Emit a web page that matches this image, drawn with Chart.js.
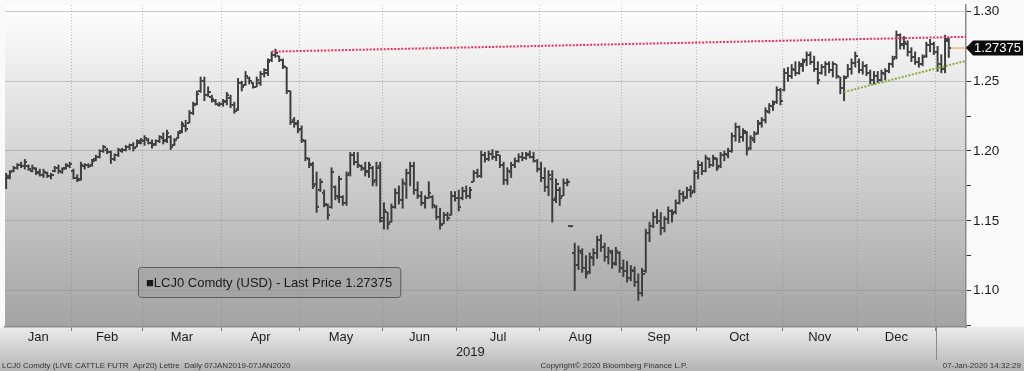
<!DOCTYPE html>
<html>
<head>
<meta charset="utf-8">
<title>LCJ0 Comdty - Last Price</title>
<script src="https://cdn.jsdelivr.net/npm/chart.js"></script>
<style>
  html, body { margin: 0; padding: 0; background: #fafafa; }
  #wrap { position: relative; width: 1024px; height: 371px; }
</style>
</head>
<body>
<div id="wrap"><canvas id="chart"></canvas></div>
<script>
// trading days 07JAN2019 - 07JAN2020, one bar per day (index on the x axis)
const months = ['Jan', 'Feb', 'Mar', 'Apr', 'May', 'Jun', 'Jul', 'Aug', 'Sep', 'Oct', 'Nov', 'Dec'];
const monthStarts = [0, 18, 37, 58, 79, 101, 121, 143, 165, 185, 208, 228, 249]; // last one = Jan 2020
const yTicks = [1.075, 1.10, 1.125, 1.15, 1.175, 1.20, 1.225, 1.25, 1.275, 1.30];

const opens = [
  1.175,1.181,1.186,1.188,1.190,1.189,1.189,1.186,1.187,1.185,1.183,1.184,1.182,1.186,1.188,1.185,1.188,1.189,
  1.186,1.181,1.180,1.189,1.190,1.190,1.194,1.196,1.200,1.201,1.199,1.194,1.197,1.200,1.201,1.203,1.204,1.203,1.206,
  1.207,1.208,1.206,1.205,1.207,1.209,1.208,1.210,1.204,1.209,1.214,1.218,1.220,1.227,1.234,1.243,1.250,1.240,1.239,1.236,1.233,
  1.234,1.235,1.238,1.233,1.230,1.249,1.247,1.252,1.249,1.246,1.249,1.255,1.256,1.265,1.269,1.268,1.265,1.260,1.243,1.222,1.220,
  1.216,1.207,1.194,1.190,1.176,1.172,1.170,1.161,1.160,1.174,1.166,1.167,1.163,1.184,1.197,1.192,1.189,1.187,1.186,1.188,1.179,1.189,
  1.150,1.156,1.149,1.160,1.170,1.165,1.176,1.184,1.189,1.172,1.168,1.163,1.166,1.167,1.160,1.153,1.148,1.154,1.154,1.168,
  1.166,1.166,1.171,1.168,1.178,1.184,1.182,1.197,1.194,1.198,1.196,1.197,1.190,1.179,1.185,1.190,1.193,1.196,1.195,1.197,1.196,1.193,
  1.187,1.181,1.174,1.180,1.166,1.172,1.168,1.177,1.146,1.127,1.118,1.127,1.116,1.113,1.123,1.127,1.136,1.131,1.124,1.127,1.120,1.127,
  1.116,1.114,1.109,1.114,1.106,1.098,1.114,1.141,1.146,1.153,1.150,1.145,1.151,1.157,1.156,1.163,1.169,1.167,1.172,1.171,
  1.184,1.190,1.186,1.194,1.190,1.194,1.189,1.197,1.197,1.200,1.211,1.217,1.210,1.213,1.202,1.208,1.213,1.219,1.222,1.228,1.232,1.235,1.244,
  1.244,1.256,1.254,1.258,1.256,1.261,1.265,1.269,1.264,1.259,1.256,1.260,1.262,1.258,1.262,1.253,1.245,1.253,1.259,1.263,
  1.264,1.258,1.261,1.256,1.251,1.254,1.251,1.255,1.257,1.262,1.267,1.283,1.277,1.277,1.271,1.267,1.264,1.262,1.268,1.276,1.277,
  1.271,1.262,1.259,1.279
];
const highs = [
  1.184,1.186,1.189,1.191,1.192,1.194,1.190,1.190,1.188,1.187,1.187,1.185,1.184,1.189,1.190,1.188,1.191,1.192,
  1.187,1.183,1.192,1.191,1.191,1.194,1.197,1.201,1.204,1.202,1.200,1.198,1.202,1.202,1.204,1.205,1.206,1.208,1.209,
  1.211,1.209,1.208,1.208,1.211,1.213,1.215,1.211,1.209,1.214,1.221,1.222,1.229,1.235,1.243,1.253,1.253,1.246,1.240,1.237,1.235,
  1.237,1.242,1.240,1.235,1.252,1.250,1.257,1.253,1.249,1.253,1.257,1.259,1.266,1.271,1.273,1.268,1.266,1.260,1.243,1.224,1.222,
  1.218,1.208,1.195,1.192,1.185,1.180,1.172,1.162,1.188,1.175,1.182,1.168,1.185,1.199,1.199,1.199,1.190,1.192,1.192,1.189,1.192,1.192,
  1.163,1.156,1.162,1.173,1.175,1.180,1.187,1.192,1.192,1.178,1.171,1.168,1.178,1.168,1.161,1.159,1.156,1.156,1.171,1.171,
  1.172,1.174,1.175,1.174,1.186,1.187,1.200,1.199,1.200,1.201,1.200,1.197,1.192,1.188,1.192,1.195,1.198,1.199,1.199,1.200,1.199,1.194,
  1.192,1.188,1.186,1.186,1.180,1.174,1.180,1.180,1.1464,1.134,1.132,1.130,1.125,1.127,1.130,1.139,1.140,1.134,1.131,1.129,1.131,1.128,
  1.122,1.121,1.118,1.117,1.112,1.116,1.144,1.149,1.156,1.158,1.156,1.153,1.160,1.158,1.165,1.172,1.171,1.174,1.175,1.186,
  1.193,1.192,1.197,1.195,1.197,1.195,1.199,1.200,1.202,1.213,1.220,1.218,1.216,1.214,1.211,1.214,1.222,1.224,1.231,1.234,1.236,1.246,1.245,
  1.259,1.260,1.262,1.264,1.264,1.266,1.271,1.271,1.268,1.264,1.262,1.264,1.264,1.264,1.262,1.253,1.254,1.262,1.266,1.271,
  1.266,1.264,1.262,1.258,1.257,1.257,1.258,1.259,1.263,1.268,1.286,1.284,1.282,1.279,1.274,1.271,1.267,1.269,1.278,1.280,1.278,
  1.275,1.269,1.283,1.281
];
const lows = [
  1.173,1.180,1.185,1.187,1.188,1.187,1.186,1.185,1.183,1.182,1.181,1.181,1.180,1.185,1.184,1.184,1.187,1.188,
  1.180,1.178,1.179,1.187,1.188,1.189,1.193,1.195,1.199,1.198,1.191,1.193,1.196,1.199,1.200,1.201,1.200,1.203,1.205,
  1.204,1.205,1.202,1.204,1.206,1.205,1.206,1.201,1.204,1.209,1.213,1.214,1.220,1.226,1.233,1.242,1.236,1.239,1.235,1.233,1.232,
  1.232,1.233,1.231,1.227,1.229,1.243,1.247,1.248,1.245,1.246,1.247,1.253,1.254,1.264,1.267,1.264,1.259,1.241,1.219,1.217,1.213,
  1.206,1.193,1.188,1.173,1.156,1.171,1.160,1.151,1.159,1.165,1.163,1.161,1.161,1.182,1.190,1.188,1.186,1.182,1.181,1.175,1.175,1.149,
  1.144,1.144,1.149,1.159,1.162,1.159,1.166,1.175,1.169,1.166,1.161,1.159,1.166,1.159,1.151,1.144,1.148,1.150,1.154,1.164,
  1.157,1.165,1.166,1.166,1.178,1.181,1.181,1.192,1.193,1.194,1.193,1.188,1.176,1.176,1.181,1.188,1.192,1.193,1.194,1.195,1.192,1.185,
  1.178,1.171,1.168,1.149,1.163,1.161,1.168,1.175,1.1456,1.100,1.115,1.113,1.109,1.112,1.118,1.123,1.128,1.121,1.119,1.116,1.118,1.113,
  1.110,1.106,1.107,1.103,1.093,1.096,1.113,1.135,1.145,1.148,1.140,1.142,1.148,1.149,1.155,1.162,1.164,1.166,1.167,1.170,
  1.180,1.183,1.185,1.188,1.189,1.186,1.188,1.193,1.195,1.199,1.207,1.206,1.207,1.197,1.201,1.206,1.212,1.217,1.220,1.227,1.229,1.234,1.233,
  1.243,1.250,1.252,1.254,1.255,1.257,1.261,1.262,1.257,1.248,1.255,1.254,1.256,1.253,1.252,1.241,1.236,1.253,1.255,1.260,
  1.256,1.255,1.254,1.248,1.248,1.249,1.250,1.251,1.256,1.260,1.266,1.273,1.273,1.268,1.264,1.262,1.260,1.261,1.267,1.271,1.269,
  1.257,1.256,1.256,1.267
];
const closes = [
  1.182,1.185,1.188,1.190,1.189,1.192,1.187,1.188,1.184,1.183,1.185,1.182,1.183,1.188,1.186,1.187,1.190,1.191,
  1.181,1.179,1.190,1.190,1.189,1.193,1.196,1.200,1.203,1.199,1.194,1.197,1.201,1.201,1.203,1.204,1.202,1.207,1.208,
  1.209,1.206,1.204,1.207,1.210,1.207,1.213,1.203,1.208,1.213,1.219,1.216,1.227,1.233,1.241,1.250,1.240,1.242,1.237,1.234,1.234,
  1.236,1.240,1.233,1.229,1.249,1.246,1.254,1.250,1.246,1.251,1.255,1.258,1.264,1.269,1.270,1.265,1.261,1.243,1.221,1.219,1.215,
  1.208,1.195,1.191,1.175,1.160,1.178,1.162,1.154,1.185,1.168,1.180,1.163,1.183,1.197,1.192,1.190,1.188,1.185,1.190,1.178,1.188,1.152,
  1.158,1.148,1.160,1.170,1.165,1.177,1.184,1.189,1.172,1.168,1.163,1.166,1.170,1.161,1.153,1.147,1.154,1.152,1.168,1.166,
  1.160,1.171,1.168,1.172,1.184,1.182,1.197,1.194,1.198,1.196,1.199,1.190,1.179,1.186,1.190,1.193,1.196,1.195,1.198,1.196,1.193,1.187,
  1.181,1.174,1.183,1.165,1.176,1.166,1.177,1.178,1.146,1.118,1.128,1.116,1.112,1.124,1.127,1.136,1.131,1.124,1.128,1.119,1.128,1.116,
  1.114,1.109,1.115,1.106,1.098,1.112,1.141,1.146,1.153,1.150,1.145,1.151,1.157,1.155,1.163,1.169,1.166,1.172,1.170,1.184,
  1.190,1.186,1.195,1.190,1.195,1.188,1.197,1.198,1.200,1.211,1.217,1.210,1.214,1.201,1.209,1.212,1.220,1.222,1.229,1.232,1.234,1.244,1.236,
  1.256,1.254,1.259,1.256,1.262,1.264,1.269,1.264,1.259,1.251,1.260,1.262,1.258,1.262,1.254,1.245,1.252,1.259,1.263,1.268,
  1.258,1.261,1.256,1.251,1.254,1.251,1.256,1.257,1.262,1.266,1.283,1.276,1.278,1.271,1.267,1.264,1.262,1.267,1.276,1.277,1.271,
  1.262,1.259,1.280,1.27375
];

const lastPrice = 1.27375;
// trend lines drawn on the chart: [index, price]
const resistance = [[71, 1.2712], [256.6, 1.2818]];
const support = [[224, 1.2423], [256.6, 1.2646]];

const X_MIN = -0.3, X_MAX = 256.6;
const FONT = "'Liberation Sans', Arial, sans-serif";
Chart.defaults.font.family = FONT;

function tickImage(side) {
  const c = document.createElement('canvas');
  c.width = 5; c.height = 2;
  const g = c.getContext('2d');
  g.fillStyle = '#444';
  g.fillRect(side === 'open' ? 0 : 3, 0, 2, 2);
  return c;
}

const isMajor = v => Math.abs(v * 20 - Math.round(v * 20)) < 1e-6;

const frame = {
  id: 'frame',
  beforeDraw(chart) {
    const {ctx, chartArea: a, width, height} = chart;
    ctx.save();
    ctx.fillStyle = '#fafafa';
    ctx.fillRect(0, 0, width, height);
    let g = ctx.createLinearGradient(0, a.bottom, 0, height);
    g.addColorStop(0, '#ececec');
    g.addColorStop(1, '#b4b4b4');
    ctx.fillStyle = g;
    ctx.fillRect(0, a.bottom, width, height - a.bottom);
    g = ctx.createLinearGradient(0, a.top, 0, a.bottom);
    g.addColorStop(0, '#ffffff');
    g.addColorStop(1, '#a3a3a3');
    ctx.fillStyle = g;
    ctx.fillRect(a.left, a.top, a.right - a.left, a.bottom - a.top);
    ctx.restore();
  },
  afterDraw(chart) {
    const {ctx, chartArea: a, scales} = chart;
    const xs = scales.x, ys = scales.y;
    ctx.save();

    // month labels + year
    ctx.fillStyle = '#1e1e1e';
    ctx.textAlign = 'center';
    ctx.textBaseline = 'middle';
    ctx.font = '13px ' + FONT;
    months.forEach((m, i) => {
      const from = Math.max(monthStarts[i] - 0.5, X_MIN);
      const to = monthStarts[i + 1] - 0.5;
      ctx.fillText(m, xs.getPixelForValue((from + to) / 2), a.bottom + 10);
    });
    ctx.fillText('2019', xs.getPixelForValue((X_MIN + monthStarts[12] - 0.5) / 2), a.bottom + 25);

    // year divider
    const xd = Math.round(xs.getPixelForValue(monthStarts[12] - 0.5)) + 0.5;
    ctx.strokeStyle = '#8a8a8a';
    ctx.lineWidth = 1;
    ctx.beginPath();
    ctx.moveTo(xd, a.bottom);
    ctx.lineTo(xd, a.bottom + 33);
    ctx.stroke();

    // footer
    ctx.font = '8px ' + FONT;
    ctx.fillStyle = '#333';
    ctx.textAlign = 'left';
    ctx.fillText('LCJ0 Comdty (LIVE CATTLE FUTR  Apr20) Lettre  Daily 07JAN2019-07JAN2020', 2, 366);
    ctx.textAlign = 'center';
    ctx.fillText('Copyright\u00A9 2020 Bloomberg Finance L.P.', 614, 366);
    ctx.textAlign = 'right';
    ctx.fillText('07-Jan-2020 14:32:29', 1021, 366);

    // legend box
    ctx.font = '13px ' + FONT;
    const txt = '\u25A0LCJ0 Comdty (USD) - Last Price ' + lastPrice;
    const tw = ctx.measureText(txt).width;
    ctx.beginPath();
    ctx.roundRect(138.5, 267.5, tw + 16, 30, 3);
    ctx.fillStyle = 'rgba(150,150,150,0.35)';
    ctx.fill();
    ctx.strokeStyle = '#5c5c5c';
    ctx.stroke();
    ctx.fillStyle = '#1a1a1a';
    ctx.textAlign = 'left';
    ctx.fillText(txt, 146, 283);

    // last price tag
    const yc = ys.getPixelForValue(lastPrice);
    ctx.beginPath();
    ctx.moveTo(a.right, yc);
    ctx.lineTo(a.right + 7, yc - 7.5);
    ctx.lineTo(1023, yc - 7.5);
    ctx.lineTo(1023, yc + 7.5);
    ctx.lineTo(a.right + 7, yc + 7.5);
    ctx.closePath();
    ctx.fillStyle = '#0b0b0b';
    ctx.fill();
    ctx.fillStyle = '#ffffff';
    ctx.font = '13px ' + FONT;
    ctx.fillText(String(lastPrice), a.right + 8, yc + 0.5);
    ctx.restore();
  }
};

const trend = (pts, color, width) => ({
  type: 'line',
  data: pts.map(p => ({x: p[0], y: p[1]})),
  borderColor: color,
  borderWidth: width,
  borderDash: [2, 1.5],
  pointRadius: 0,
  fill: false,
  order: 0
});

new Chart(document.getElementById('chart'), {
  type: 'bar',
  data: {
    datasets: [
      trend(resistance, '#e8305a', 2),
      trend(support, '#8cab3a', 2),
      {
        type: 'line',
        data: [{x: 252.6, y: lastPrice}, {x: X_MAX, y: lastPrice}],
        borderColor: '#e59a55',
        borderWidth: 1,
        pointRadius: 0,
        order: 0
      },
      {
        type: 'line',
        data: opens.map((v, i) => ({x: i, y: v})),
        showLine: false,
        pointStyle: tickImage('open'),
        pointRadius: 2,
        order: 1
      },
      {
        type: 'line',
        data: closes.map((v, i) => ({x: i, y: v})),
        showLine: false,
        pointStyle: tickImage('close'),
        pointRadius: 2,
        order: 1
      },
      {
        type: 'bar',
        data: highs.map((h, i) => ({x: i, y: [lows[i], h]})),
        backgroundColor: '#3c3c3c',
        borderWidth: 0,
        barThickness: 1.3,
        order: 2
      }
    ]
  },
  options: {
    responsive: true,
    maintainAspectRatio: false,
    animation: false,
    events: [],
    layout: { padding: 0 },
    plugins: { legend: { display: false }, tooltip: { enabled: false } },
    scales: {
      x: {
        type: 'linear',
        min: X_MIN,
        max: X_MAX,
        offset: false,
        afterBuildTicks: s => { s.ticks = monthStarts.slice(1).map(v => ({value: v - 0.5})); },
        afterFit: s => { s.height = 44; s.paddingLeft = 0; s.paddingRight = 0; },
        ticks: { autoSkip: false, callback: () => '' },
        grid: {
          offset: false,
          color: 'rgba(120,120,120,0.45)',
          lineWidth: 1,
          tickLength: 4,
          tickColor: '#7a7a7a'
        },
        border: { display: true, color: '#8c8c8c', width: 1.5, dash: [1, 2] }
      },
      y: {
        position: 'right',
        min: 1.0739,
        max: 1.3046,
        afterBuildTicks: s => { s.ticks = yTicks.map(v => ({value: v})); },
        afterFit: s => { s.width = 58; s.paddingTop = 0; s.paddingBottom = 0; },
        ticks: {
          autoSkip: false,
          padding: 2,
          color: '#1a1a1a',
          font: { size: 13.5 },
          callback: v => (isMajor(v) ? v.toFixed(2) : '')
        },
        grid: {
          color: c => (isMajor(c.tick.value) ? 'rgba(140,140,140,0.45)' : 'rgba(0,0,0,0)'),
          lineWidth: 1,
          tickLength: 5,
          tickColor: '#333'
        },
        border: { display: true, color: '#8c8c8c', width: 1.5 }
      }
    }
  },
  plugins: [frame]
});
</script>
</body>
</html>
